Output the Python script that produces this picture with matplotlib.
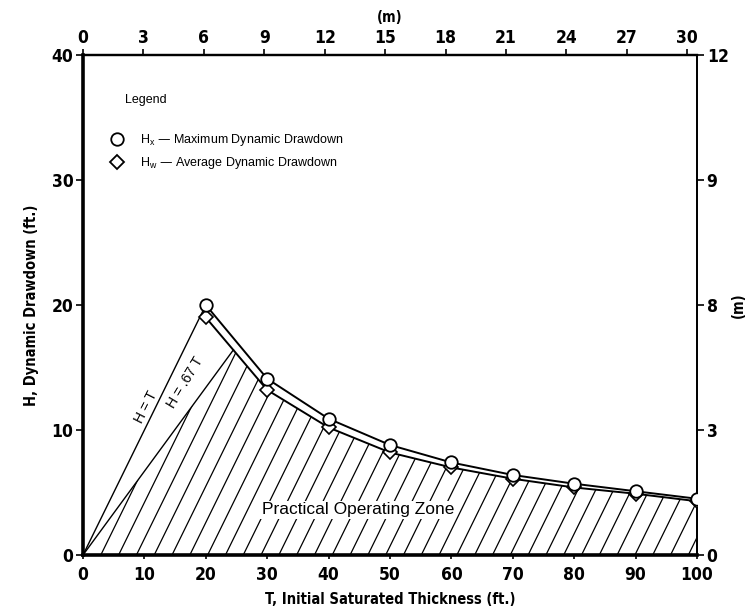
import numpy as np
import matplotlib
matplotlib.use("Agg")
import matplotlib.pyplot as plt
from matplotlib import font_manager
from matplotlib.font_manager import FontProperties
from matplotlib.patches import Polygon as PolyPatch
from matplotlib.lines import Line2D

# Data (T in ft, H in ft)
T_values = [20, 30, 40, 50, 60, 70, 80, 90, 100]
Hx_max = [20.0, 14.1, 10.9, 8.8, 7.4, 6.4, 5.7, 5.1, 4.5]
Hw_avg = [19.0, 13.2, 10.2, 8.2, 7.0, 6.1, 5.4, 4.9, 4.3]
ft_ticks = [0, 10, 20, 30, 40, 50, 60, 70, 80, 90, 100]
h_ticks = [0, 10, 20, 30, 40]
m_top_ticks = [0, 3, 6, 9, 12, 15, 18, 21, 24, 27, 30]
m_right_ticks = [0, 3, 6, 9, 12]
m_right_labels = ["0", "3", "8", "9", "12"]
ratio_line = 0.67


def narrow_bold(size):
    # look for a condensed bold face, fall back to Liberation Sans bold
    for f in font_manager.fontManager.ttflist:
        if f.name == "Liberation Sans Narrow" and f.weight in ("bold", 700) \
                and f.style == "normal":
            return FontProperties(fname=f.fname, size=size)
    for f in font_manager.fontManager.ttflist:
        if "DejaVuSansCondensed-Bold.ttf" in f.fname:
            return FontProperties(fname=f.fname, size=size)
    return FontProperties(family="Liberation Sans", weight="bold", size=size)


plt.rcParams["font.family"] = ["Liberation Sans", "DejaVu Sans"]

fig = plt.figure(figsize=(7.5, 6.1), dpi=100)
ax = fig.add_axes([0.1107, 0.0902, 0.8186, 0.8196])
ax.set_xlim(0, 100)
ax.set_ylim(0, 40)

T = np.array(T_values, dtype=float)
hx = np.array(Hx_max)
hw = np.array(Hw_avg)

# where H = .67 T meets the average drawdown curve
tt = np.linspace(T[0], T[1], 500)
diff = np.interp(tt, T, hw) - ratio_line * tt
t_cross = tt[np.argmin(np.abs(diff))]
h_cross = ratio_line * t_cross

# practical operating zone, hatched with lines parallel to H = T
mask = T > t_cross
zone_x = [0, t_cross] + list(T[mask]) + [100, 0]
zone_y = [0, h_cross] + list(hw[mask]) + [0, 0]
zone = PolyPatch(np.column_stack([zone_x, zone_y]), closed=True,
                 facecolor="none", edgecolor="none")
ax.add_patch(zone)
for c in np.arange(0, 110, 2.9):
    ln, = ax.plot([c, c + 45], [0, 45], color="black", lw=0.9, zorder=2)
    ln.set_clip_path(zone)

# H = T and H = .67 T lines
ax.plot([0, T[0]], [0, T[0]], color="black", lw=1.0, zorder=3)
ax.plot([0, t_cross], [0, h_cross], color="black", lw=1.0, zorder=3)

# drawdown curves
ax.plot(T, hw, color="black", lw=1.4, marker="D", ms=7.5, mfc="white",
        mec="black", mew=1.2, zorder=4)
ax.plot(T, hx, color="black", lw=1.4, marker="o", ms=9, mfc="white",
        mec="black", mew=1.3, zorder=5)

ax.text(10.3, 11.8, "H = T", rotation=63, ha="center", va="center", fontsize=10)
ax.text(16.6, 13.8, "H = .67 T", rotation=59, ha="center", va="center", fontsize=10)
ax.text(44.8, 3.6, "Practical Operating Zone", ha="center", va="center",
        fontsize=12.5, zorder=6,
        bbox=dict(facecolor="white", edgecolor="none", pad=1))

# legend
ax.text(6.8, 36.4, "Legend", ha="left", va="center", fontsize=9)
handles = [
    Line2D([], [], ls="none", marker="o", ms=9, mfc="white", mec="black", mew=1.3),
    Line2D([], [], ls="none", marker="D", ms=7.5, mfc="white", mec="black", mew=1.3),
]
labels = [r"H$_\mathregular{x}$ — Maximum Dynamic Drawdown",
          r"H$_\mathregular{w}$ — Average Dynamic Drawdown"]
ax.legend(handles, labels, loc="upper left", bbox_to_anchor=(0.027, 0.856),
          frameon=False, fontsize=9, handletextpad=0.8, labelspacing=0.55,
          borderaxespad=0)

# axes styling
for side, lw in [("left", 2.6), ("bottom", 2.6), ("top", 1.6), ("right", 1.3)]:
    ax.spines[side].set_linewidth(lw)

tick_fp = narrow_bold(12.5)
label_fp = narrow_bold(10.5)
ax.set_xticks(ft_ticks)
ax.set_yticks(h_ticks)
ax.set_xticklabels([str(v) for v in ft_ticks], fontproperties=tick_fp)
ax.set_yticklabels([str(v) for v in h_ticks], fontproperties=tick_fp)
ax.tick_params(axis="y", direction="out", length=5, width=1.2, pad=2)
ax.tick_params(axis="x", direction="out", length=3, width=1.2, pad=5)
ax.set_xlabel("T, Initial Saturated Thickness (ft.)", fontproperties=label_fp,
              labelpad=6)
ax.set_ylabel("H, Dynamic Drawdown (ft.)", fontproperties=label_fp,
              labelpad=9)

top = ax.secondary_xaxis("top", functions=(lambda x: x * 0.3048,
                                           lambda m: m / 0.3048))
top.set_xticks(m_top_ticks)
top.set_xticklabels([str(v) for v in m_top_ticks], fontproperties=tick_fp)
top.tick_params(direction="out", length=4, width=1.2, pad=2)
top.set_xlabel("(m)", fontproperties=label_fp, labelpad=5)
top.spines["top"].set_linewidth(1.6)

right = ax.secondary_yaxis("right", functions=(lambda y: y * 0.3,
                                               lambda m: m / 0.3))
right.set_yticks(m_right_ticks)
right.set_yticklabels(m_right_labels, fontproperties=tick_fp)
right.tick_params(direction="out", length=5, width=1.2, pad=2)
right.set_ylabel("(m)", fontproperties=label_fp, rotation=90, labelpad=2)
right.spines["right"].set_linewidth(1.3)

fig.savefig("out.png", dpi=100)
